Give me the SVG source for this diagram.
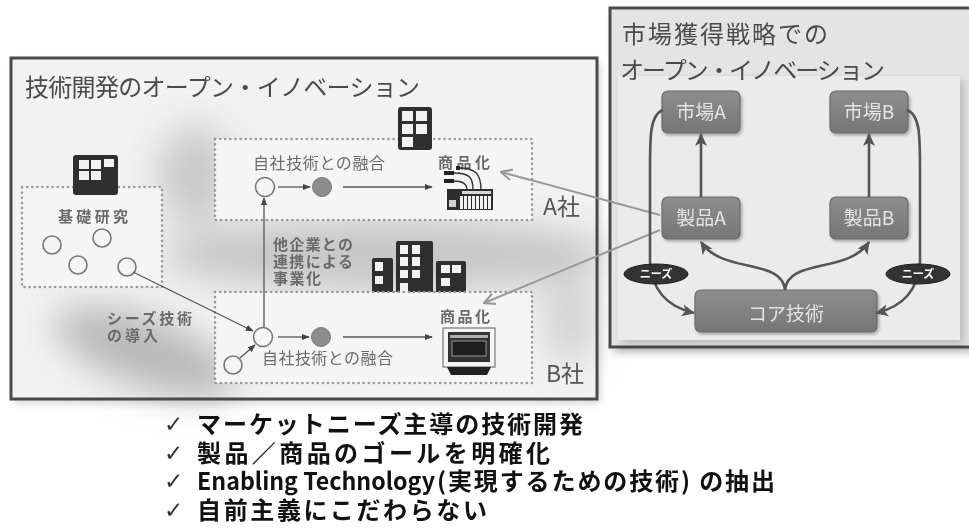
<svg xmlns="http://www.w3.org/2000/svg" width="969" height="530" viewBox="0 0 969 530">
  <defs>
    <style>
      .jp { font-family: "Noto Sans CJK JP", "Liberation Sans", sans-serif; }
      .title { font-size: 24px; fill: #4a4a4a; }
      .lbl { font-size: 15px; fill: #6a6a6a; font-weight: bold; }
      .lbl-r { font-size: 16px; fill: #6a6a6a; }
      .corp { font-size: 23px; fill: #555; }
      .dotbox { fill: #f5f5f5; stroke: #9a9a9a; stroke-width: 2.6; stroke-dasharray: 0.1 5; stroke-linecap: round; }
      .ring { fill: #f5f5f5; stroke: #777; stroke-width: 1.6; }
      .dot { fill: #8c8c8c; stroke: #777; stroke-width: 1; }
      .thin { fill: none; stroke: #555; stroke-width: 1.3; }
      .bld { fill: #2f2f2f; }
      .win { fill: #f2f2f2; }
      .node rect { fill: url(#nodeFill); stroke: #6a6a6a; stroke-width: 1.2; }
      .node text { font-size: 19px; fill: #e4e4e4; text-anchor: middle; }
      .flow { fill: none; stroke: #555; stroke-width: 2.6; }
      .link { fill: none; stroke: #9a9a9a; stroke-width: 2; }
      .needs ellipse { fill: #333; stroke: #1e1e1e; stroke-width: 1; }
      .needs text { font-size: 11px; fill: #fff; font-weight: bold; text-anchor: middle; }
      .bullet { font-size: 24px; fill: #111; font-weight: bold; }
      .tick { font-family: "DejaVu Sans", "Noto Sans", sans-serif; font-size: 23px; font-weight: normal; fill: #333; }
    </style>
    <linearGradient id="nodeFill" x1="0" y1="0" x2="0" y2="1">
      <stop offset="0" stop-color="#8e8e8e"/>
      <stop offset="1" stop-color="#767676"/>
    </linearGradient>
    <filter id="soft" x="-50%" y="-50%" width="200%" height="200%">
      <feGaussianBlur stdDeviation="18"/>
    </filter>
    <filter id="shadow" x="-10%" y="-10%" width="130%" height="130%">
      <feGaussianBlur stdDeviation="4"/>
    </filter>
    <filter id="nodeShadow" x="-20%" y="-20%" width="150%" height="160%">
      <feDropShadow dx="1.5" dy="2" stdDeviation="1.5" flood-color="#000" flood-opacity="0.3"/>
    </filter>
    <marker id="tri" viewBox="0 0 10 10" refX="9" refY="5" markerWidth="8" markerHeight="8" orient="auto" markerUnits="userSpaceOnUse">
      <path d="M0,1 L10,5 L0,9 z" fill="#444"/>
    </marker>
    <marker id="bigTri" viewBox="0 0 12 12" refX="11" refY="6" markerWidth="13" markerHeight="13" orient="auto" markerUnits="userSpaceOnUse">
      <path d="M0,0.5 L12,6 L0,11.5 L3,6 z" fill="#555"/>
    </marker>
    <marker id="chev" viewBox="0 0 12 12" refX="11" refY="6" markerWidth="13" markerHeight="13" orient="auto" markerUnits="userSpaceOnUse">
      <path d="M1,1 L11,6 L1,11" fill="none" stroke="#999" stroke-width="2"/>
    </marker>
  </defs>

  <rect width="969" height="530" fill="#fff"/>

  <!-- left panel: open innovation in R&D -->
  <g id="panel-rd">
    <rect x="14" y="62" width="586" height="341" fill="#000" opacity="0.18" filter="url(#shadow)"/>
    <rect x="11" y="58" width="586" height="341" fill="#f2f2f2"/>
    <g filter="url(#soft)">
      <ellipse cx="145" cy="352" rx="95" ry="34" fill="#b8b8b8" transform="rotate(20 145 352)"/>
      <ellipse cx="385" cy="255" rx="225" ry="36" fill="#c6c6c6"/>
      <ellipse cx="195" cy="175" rx="36" ry="50" fill="#c8c8c8"/>
      <ellipse cx="570" cy="320" rx="25" ry="45" fill="#d0d0d0"/>
    </g>
    <rect x="11" y="58" width="586" height="341" fill="none" stroke="#4a4a4a" stroke-width="3"/>
    <text class="jp title" x="25" y="96" textLength="395">技術開発のオープン・イノベーション</text>
  </g>

  <!-- right panel: open innovation for market strategy -->
  <g id="panel-market">
    <rect x="614" y="13" width="364" height="339" fill="#000" opacity="0.3" filter="url(#shadow)"/>
    <rect x="610" y="8" width="364" height="339" fill="#e4e4e4" stroke="#4a4a4a" stroke-width="3"/>
    <rect x="622" y="80" width="342" height="264" fill="#000" opacity="0.18" filter="url(#shadow)"/>
    <rect x="618" y="76" width="342" height="264" fill="#ebebeb"/>
    <text class="jp title" x="622" y="43" textLength="206">市場獲得戦略での</text>
    <text class="jp title" x="620" y="79" textLength="265">オープン・イノベーション</text>
  </g>

  <!-- basic research -->
  <g id="basic-research">
    <rect class="dotbox" x="22" y="187" width="140" height="100"/>
    <rect class="bld" x="73" y="155" width="45" height="40" rx="3"/>
    <rect class="win" x="79" y="160" width="10" height="9"/>
    <rect class="win" x="91" y="160" width="10" height="9"/>
    <rect class="win" x="104" y="159" width="10" height="8"/>
    <rect class="win" x="79" y="171" width="10" height="9"/>
    <rect class="win" x="91" y="171" width="10" height="9"/>
    <text class="jp lbl" x="93" y="222" text-anchor="middle" textLength="70">基礎研究</text>
    <circle class="ring" cx="52" cy="245" r="9"/>
    <circle class="ring" cx="102" cy="238" r="9"/>
    <circle class="ring" cx="78" cy="265" r="9"/>
    <circle class="ring" cx="127" cy="267" r="9"/>
  </g>

  <!-- company A -->
  <g id="company-a">
    <rect class="dotbox" x="215" y="139" width="317" height="81"/>
    <rect class="bld" x="398" y="107" width="34" height="43" rx="3"/>
    <rect class="win" x="402" y="111" width="11" height="10"/>
    <rect class="win" x="416" y="111" width="11" height="10"/>
    <rect class="win" x="402" y="124" width="11" height="10"/>
    <rect class="win" x="416" y="124" width="11" height="10"/>
    <rect class="win" x="402" y="137" width="11" height="10"/>
    <text class="jp lbl-r" x="253" y="169" textLength="132">自社技術との融合</text>
    <circle class="ring" cx="265" cy="187" r="9.5"/>
    <circle class="dot" cx="322" cy="187" r="9.5"/>
    <text class="jp lbl" x="464" y="168" text-anchor="middle" textLength="52">商品化</text>
    <g id="keyboard">
      <path d="M454,173 C470,173 473,178 473,190 M454,181 C463,181 467,184 467,190 M458,168 C476,168 481,174 481,190" fill="none" stroke="#333" stroke-width="1.4"/>
      <rect x="444" y="171" width="10" height="4" fill="#222"/>
      <rect x="444" y="179" width="10" height="4" fill="#222"/>
      <rect x="456" y="166" width="4" height="4" fill="#222"/>
      <rect x="447" y="189" width="46" height="21" fill="#2e2e2e"/>
      <rect x="462" y="191" width="29" height="3" fill="#d8d8d8"/>
      <rect x="449" y="200" width="7" height="7" fill="#cfcfcf"/>
      <g fill="#f2f2f2">
        <rect x="460" y="196" width="3" height="13"/>
        <rect x="464" y="196" width="3" height="13"/>
        <rect x="468" y="196" width="3" height="13"/>
        <rect x="472" y="196" width="3" height="13"/>
        <rect x="476" y="196" width="3" height="13"/>
        <rect x="480" y="196" width="3" height="13"/>
        <rect x="484" y="196" width="3" height="13"/>
        <rect x="488" y="196" width="3" height="13"/>
      </g>
    </g>
    <text class="jp corp" x="543" y="215">A社</text>
  </g>

  <!-- partner buildings -->
  <g id="partners">
    <rect class="bld" x="372" y="258" width="21" height="43" rx="2"/>
    <rect class="win" x="375" y="262" width="8" height="9"/>
    <rect class="win" x="375" y="276" width="8" height="8"/>
    <rect class="bld" x="396" y="241" width="37" height="60" rx="2"/>
    <rect class="win" x="400" y="245" width="8" height="9"/>
    <rect class="win" x="412" y="245" width="8" height="9"/>
    <rect class="win" x="400" y="257" width="8" height="9"/>
    <rect class="win" x="412" y="257" width="8" height="9"/>
    <rect class="win" x="400" y="270" width="8" height="8"/>
    <rect class="win" x="412" y="270" width="8" height="8"/>
    <rect class="win" x="400" y="283" width="8" height="9"/>
    <rect class="bld" x="436" y="261" width="30" height="40" rx="2"/>
    <rect class="win" x="441" y="265" width="9" height="8"/>
    <rect class="win" x="452" y="265" width="9" height="8"/>
    <rect class="win" x="441" y="278" width="9" height="8"/>
    <text class="jp lbl" x="273" y="250" textLength="80">他企業との</text>
    <text class="jp lbl" x="273" y="267" textLength="80">連携による</text>
    <text class="jp lbl" x="273" y="284" textLength="48">事業化</text>
  </g>

  <!-- company B -->
  <g id="company-b">
    <rect class="dotbox" x="215" y="292" width="317" height="91"/>
    <circle class="ring" cx="263" cy="337" r="9.5"/>
    <circle class="dot" cx="321" cy="337" r="9.5"/>
    <circle class="ring" cx="233" cy="365" r="9"/>
    <text class="jp lbl-r" x="262" y="364" textLength="131">自社技術との融合</text>
    <text class="jp lbl" x="465" y="322" text-anchor="middle" textLength="50">商品化</text>
    <g id="monitor">
      <rect x="443" y="328" width="52" height="39" fill="#f4f4f4" stroke="#777" stroke-width="1.2"/>
      <rect x="448" y="332" width="42" height="30" fill="#333"/>
      <rect x="450" y="335" width="38" height="3" fill="#b0b0b0"/>
      <rect x="452" y="341" width="34" height="15" fill="#1e1e1e" stroke="#999" stroke-width="1"/>
      <path d="M447,367 L491,367 L487,375 L451,375 z" fill="#222"/>
    </g>
    <text class="jp corp" x="546" y="382">B社</text>
    <text class="jp lbl" x="107" y="324" textLength="85">シーズ技術</text>
    <text class="jp lbl" x="107" y="341" textLength="51">の導入</text>
  </g>

  <!-- market strategy nodes -->
  <g id="market-a" class="node jp" filter="url(#nodeShadow)">
    <rect x="662" y="91" width="78" height="42" rx="6"/>
    <text x="701" y="119">市場A</text>
  </g>
  <g id="market-b" class="node jp" filter="url(#nodeShadow)">
    <rect x="830" y="91" width="78" height="42" rx="6"/>
    <text x="869" y="119">市場B</text>
  </g>
  <g id="product-a" class="node jp" filter="url(#nodeShadow)">
    <rect x="662" y="197" width="78" height="42" rx="6"/>
    <text x="701" y="225">製品A</text>
  </g>
  <g id="product-b" class="node jp" filter="url(#nodeShadow)">
    <rect x="830" y="197" width="78" height="42" rx="6"/>
    <text x="869" y="225">製品B</text>
  </g>
  <g id="core-tech" class="node jp" filter="url(#nodeShadow)">
    <rect x="695" y="290" width="182" height="42" rx="6"/>
    <text x="786" y="321">コア技術</text>
  </g>

  <!-- connectors -->
  <g id="connectors">
    <!-- left panel flows -->
    <line class="thin" x1="133" y1="272" x2="253" y2="331" marker-end="url(#tri)"/>
    <line class="thin" x1="240" y1="358" x2="255" y2="345" marker-end="url(#tri)"/>
    <line class="thin" x1="264" y1="327" x2="264" y2="198" marker-end="url(#tri)"/>
    <line class="thin" x1="278" y1="187" x2="310" y2="187" marker-end="url(#tri)"/>
    <line class="thin" x1="343" y1="187" x2="432" y2="187" marker-end="url(#tri)"/>
    <line class="thin" x1="278" y1="337" x2="309" y2="337" marker-end="url(#tri)"/>
    <line class="thin" x1="343" y1="337" x2="432" y2="337" marker-end="url(#tri)"/>
    <!-- product A to the commercialised goods -->
    <line class="link" x1="660" y1="215" x2="501" y2="172" marker-end="url(#chev)"/>
    <line class="link" x1="660" y1="230" x2="484" y2="303" marker-end="url(#chev)"/>
    <!-- market strategy flows -->
    <line class="flow" x1="701" y1="197" x2="701" y2="134" marker-end="url(#bigTri)"/>
    <line class="flow" x1="869" y1="197" x2="869" y2="134" marker-end="url(#bigTri)"/>
    <path class="flow" d="M785,290 C782,258 722,274 701,242" marker-end="url(#bigTri)"/>
    <path class="flow" d="M785,290 C788,258 848,274 869,242" marker-end="url(#bigTri)"/>
    <path class="flow" d="M663,110 C650,115 650,135 650,170 L650,262 C652,292 668,307 694,313" marker-end="url(#bigTri)"/>
    <path class="flow" d="M907,110 C920,115 920,135 920,170 L920,262 C918,292 902,307 876,313" marker-end="url(#bigTri)"/>
  </g>

  <!-- needs tags -->
  <g id="needs-left" class="needs jp">
    <ellipse cx="656" cy="274" rx="32" ry="10"/>
    <text x="656" y="278">ニーズ</text>
  </g>
  <g id="needs-right" class="needs jp">
    <ellipse cx="918" cy="274" rx="32" ry="10"/>
    <text x="918" y="278">ニーズ</text>
  </g>

  <!-- key points -->
  <g id="points" class="jp bullet">
    <text class="tick" x="164" y="432">✓</text>
    <text x="197" y="433" textLength="386">マーケットニーズ主導の技術開発</text>
    <text class="tick" x="164" y="461">✓</text>
    <text x="197" y="462" textLength="353">製品／商品のゴールを明確化</text>
    <text class="tick" x="164" y="489">✓</text>
    <text x="197" y="490" textLength="238" lengthAdjust="spacingAndGlyphs">Enabling Technology</text>
    <text x="437" y="490" textLength="338">(実現するための技術) の抽出</text>
    <text class="tick" x="164" y="518">✓</text>
    <text x="197" y="519" textLength="290">自前主義にこだわらない</text>
  </g>
</svg>
